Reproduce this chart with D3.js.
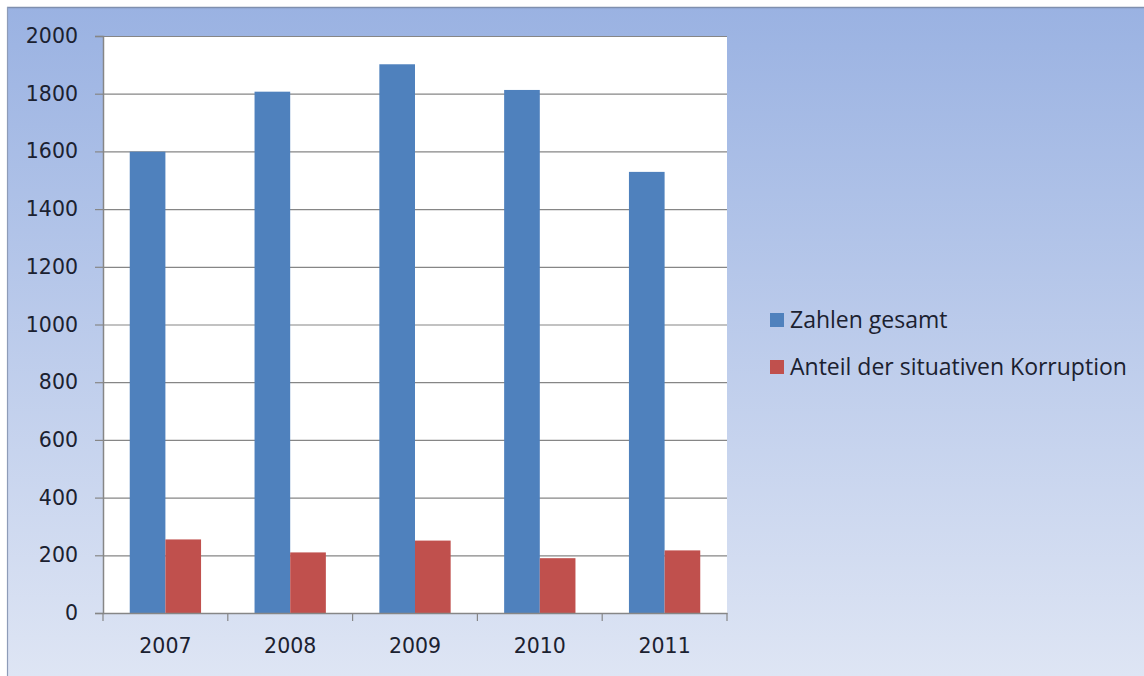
<!DOCTYPE html>
<html>
<head>
<meta charset="utf-8">
<script src="https://cdn.jsdelivr.net/npm/d3@7/dist/d3.min.js"></script>
<style>
html,body{margin:0;padding:0;background:#fff;}
svg{display:block;}
</style>
</head>
<body>
<svg id="chart" width="1144" height="676"></svg>
<script>
const categories = ["2007", "2008", "2009", "2010", "2011"];
const seriesNames = ["Zahlen gesamt", "Anteil der situativen Korruption"];
const totalValues = [1599, 1807, 1902, 1813, 1529];
const situativeValues = [255, 210, 251, 190, 217];
const yTicks = [0, 200, 400, 600, 800, 1000, 1200, 1400, 1600, 1800, 2000];
const colors = ["#4f81bd", "#c0504d"];

(function(){
const svg = d3.select("#chart");
const W = 1144, H = 676;
const textColor = "#1b2130";

const defs = svg.append("defs");
const bg = defs.append("linearGradient").attr("id","bg").attr("x1",0).attr("y1",0).attr("x2",0).attr("y2",1);
bg.append("stop").attr("offset","0%").attr("stop-color","#9ab2e2");
bg.append("stop").attr("offset","100%").attr("stop-color","#dee5f4");

svg.append("rect").attr("x",0).attr("y",0).attr("width",W).attr("height",H).attr("fill","#fff");
svg.append("rect").attr("x",7).attr("y",7).attr("width",W-7).attr("height",H-7).attr("fill","url(#bg)");
svg.append("line").attr("x1",7).attr("x2",W).attr("y1",7.5).attr("y2",7.5).attr("stroke","#7f8fae").attr("stroke-width",1.5);
svg.append("line").attr("x1",7.5).attr("x2",7.5).attr("y1",7).attr("y2",H).attr("stroke","#8e9cb8").attr("stroke-width",1.2);

const pLeft = 103, pRight = 727, pTop = 36, pBottom = 613;

const x0 = d3.scaleBand().domain(categories).range([pLeft, pRight]).paddingInner(0).paddingOuter(0);
const y = d3.scaleLinear().domain([0, 2000]).range([pBottom, pTop]);
const barW = x0.bandwidth() / 3.5;
const x1 = d3.scaleBand().domain(seriesNames).range([0, barW*2]);

// plot area
svg.append("rect").attr("x",pLeft).attr("y",pTop).attr("width",pRight-pLeft).attr("height",pBottom-pTop).attr("fill","#fff");

// gridlines
const yGrid = d3.axisLeft(y).tickValues(yTicks).tickSize(-(pRight-pLeft)).tickFormat("");
const gGrid = svg.append("g").attr("transform",`translate(${pLeft},0)`).call(yGrid);
gGrid.select(".domain").remove();
gGrid.selectAll("line").attr("stroke","#868686").attr("stroke-width",1.2);

// bars
const data = categories.map((c,i)=>({cat:c, vals:[totalValues[i], situativeValues[i]]}));
const groups = svg.append("g").selectAll("g").data(data).join("g")
  .attr("transform", d => `translate(${x0(d.cat) + (x0.bandwidth()-barW*2)/2},0)`);
groups.selectAll("rect").data(d => d.vals.map((v,j)=>({v, s:seriesNames[j], j})))
  .join("rect")
  .attr("x", d => x1(d.s))
  .attr("width", x1.bandwidth())
  .attr("y", d => y(d.v))
  .attr("height", d => pBottom - y(d.v))
  .attr("fill", d => colors[d.j]);

// left axis
const yA = d3.axisLeft(y).tickValues(yTicks).tickSize(8).tickPadding(17).tickFormat(d3.format("d"));
const gY = svg.append("g").attr("transform",`translate(${pLeft},0)`).call(yA);
gY.select(".domain").attr("stroke","#868686").attr("stroke-width",1.5);
gY.selectAll(".tick line").attr("stroke","#868686").attr("stroke-width",1.2);
gY.selectAll("text").attr("font-family","DejaVu Sans").attr("font-size",20.5).attr("fill",textColor);

// bottom axis
const xA = d3.axisBottom(x0).tickSize(0).tickPadding(25);
const gX = svg.append("g").attr("transform",`translate(0,${pBottom})`).call(xA);
gX.select(".domain").attr("stroke","#868686").attr("stroke-width",1.5);
gX.selectAll("text").attr("font-family","DejaVu Sans").attr("font-size",20.5).attr("fill",textColor);
const bounds = categories.map(c => x0(c)).concat([pRight]);
gX.selectAll(".bt").data(bounds).join("line").attr("class","bt")
  .attr("x1", d=>d).attr("x2", d=>d).attr("y1",0).attr("y2",8)
  .attr("stroke","#868686").attr("stroke-width",1.2);

// legend
const lg = svg.append("g").attr("transform","translate(770,313)");
const items = lg.selectAll("g").data(seriesNames).join("g").attr("transform",(d,i)=>`translate(0,${i*47})`);
items.append("rect").attr("x",0).attr("y",0).attr("width",14).attr("height",14).attr("fill",(d,i)=>colors[i]);
items.append("text").attr("x",20).attr("y",14.5).text(d=>d)
  .attr("font-family","Open Sans").attr("font-size",23).attr("fill",textColor);
})();
</script>
</body>
</html>
